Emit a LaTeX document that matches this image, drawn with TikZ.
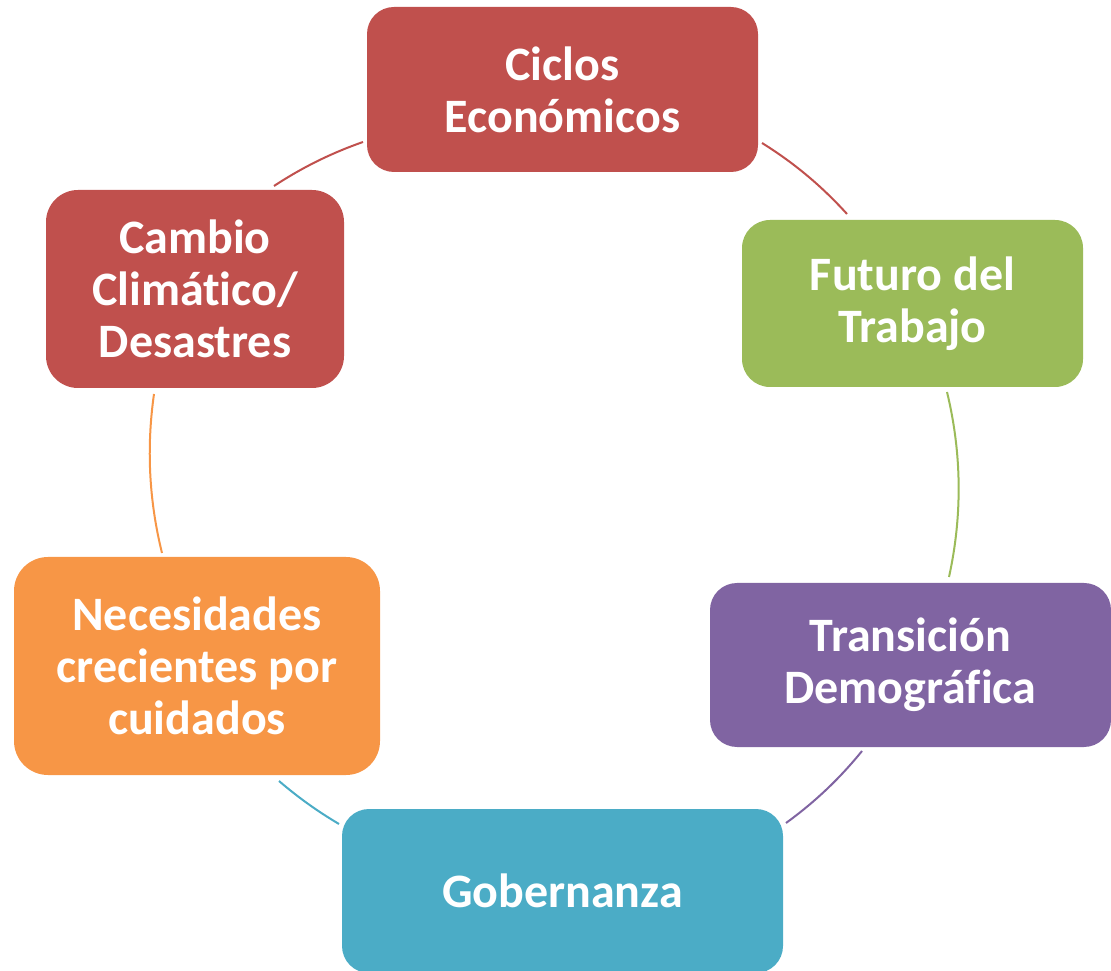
\documentclass[tikz,border=0pt]{standalone}
\usepackage{fontspec}
\setmainfont{Carlito}[RawFeature={-liga;-clig;-dlig}]
\definecolor{cred}{HTML}{C0504D}
\definecolor{cgreen}{HTML}{9BBB59}
\definecolor{cpurple}{HTML}{8064A2}
\definecolor{cblue}{HTML}{4BACC6}
\definecolor{corange}{HTML}{F79646}
\tikzset{
  box/.style={rectangle, inner sep=0pt, align=center, text=white,
    font=\bfseries\fontsize{48}{52}\selectfont},
  link/.style={line width=2pt, looseness=0.87},
}
\begin{document}
\begin{tikzpicture}[x=1pt,y=1pt]
\useasboundingbox (0,0) rectangle (1111,970);
\clip (0,0) rectangle (1111,970);
% arcs (drawn first)
\coordinate (c1a) at (762,827); \coordinate (c1b) at (847,756);
\coordinate (c2a) at (947,578); \coordinate (c2b) at (949,393);
\coordinate (c3a) at (862,219); \coordinate (c3b) at (786,147);
\coordinate (c4a) at (339,146); \coordinate (c4b) at (279,189);
\coordinate (c5a) at (162,417); \coordinate (c5b) at (154,576);
\coordinate (c6a) at (274,784); \coordinate (c6b) at (363,828);
\draw[link, cred]    (c1a) to[bend left=8]  (c1b);
\draw[link, cgreen]  (c2a) to[bend left=13] (c2b);
\draw[link, cpurple] (c3a) to[bend left=7.5] (c3b);
\draw[link, cblue]   (c4a) to[bend left=5]  (c4b);
\draw[link, corange] (c5a) to[bend left=11] (c5b);
\draw[link, cred]    (c6a) to[bend left=7]  (c6b);
% boxes
\node[box, fill=cred, rounded corners=27pt, minimum width=391pt, minimum height=165pt]
  (ciclos) at (562.5,880.5) {Ciclos\\Económicos};
\node[box, fill=cgreen, rounded corners=28pt, minimum width=341pt, minimum height=167pt]
  (futuro) at (912.5,666.5) {Futuro del\\Trabajo};
\node[box, fill=cpurple, rounded corners=27pt, minimum width=401pt, minimum height=164pt]
  (transicion) at (910.5,305) {Transición\\Demográfica};
\node[box, fill=cblue, rounded corners=27pt, minimum width=441pt, minimum height=164pt]
  (gobernanza) at (562.5,79) {Gobernanza};
\node[box, fill=corange, rounded corners=34pt, minimum width=366pt, minimum height=218pt]
  (necesidades) at (197,304) {Necesidades\\crecientes por\\cuidados};
\node[box, fill=cred, rounded corners=32pt, minimum width=298pt, minimum height=198pt]
  (cambio) at (195,681) {Cambio\\Climático/\\Desastres};
\end{tikzpicture}
\end{document}
